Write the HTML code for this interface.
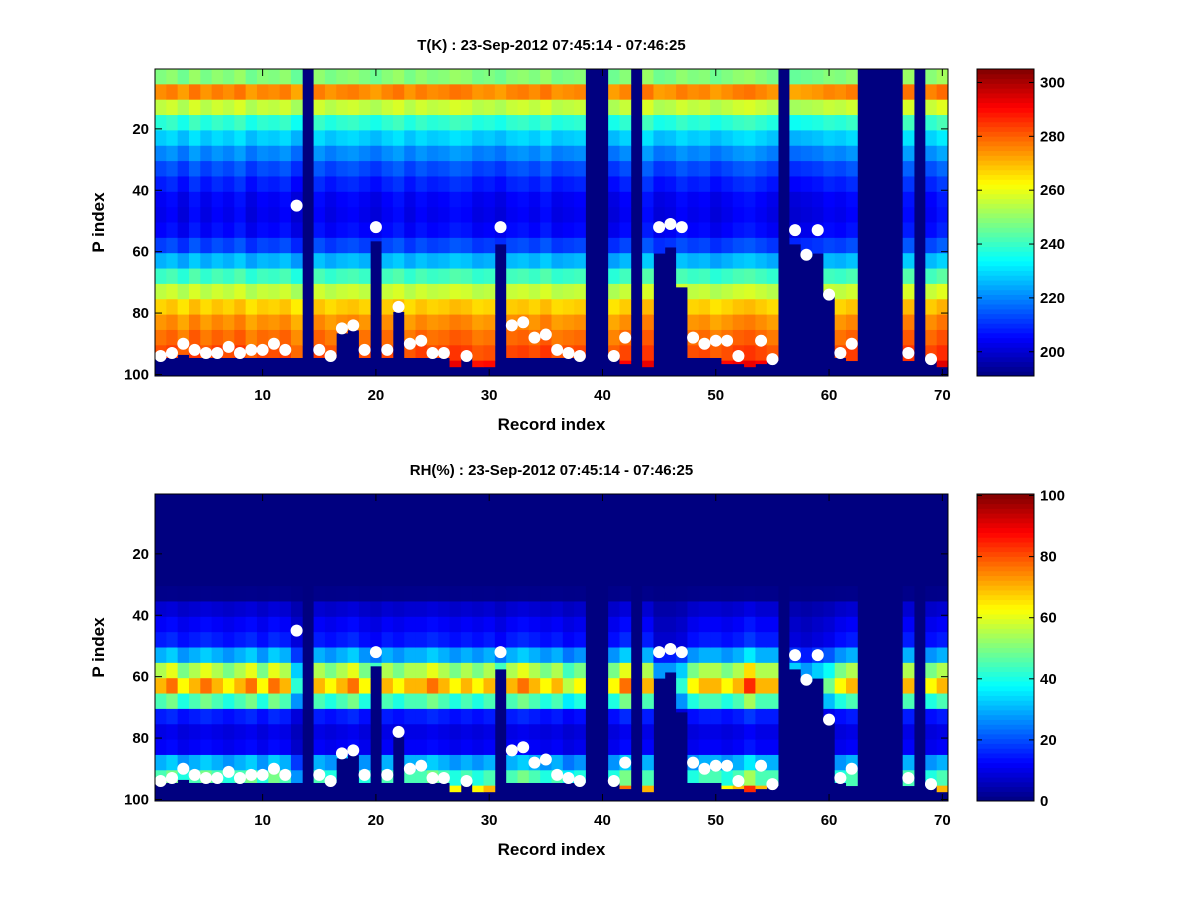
<!DOCTYPE html>
<html><head><meta charset="utf-8">
<style>
body{margin:0;background:#fff;}
svg text{font-family:"Liberation Sans",sans-serif;font-weight:bold;fill:#000;}
</style></head>
<body>
<svg id="fig" width="1200" height="900" xmlns="http://www.w3.org/2000/svg">
<rect width="1200" height="900" fill="#fff"/>
</svg>
<script>
// ---- data ----
const records = Array.from({length:70},(_,i)=>i+1);
const missing = [14,39,40,43,56,63,64,65,66,68];
const surfaceIdx = [94,93,90,92,93,93,91,93,92,92,90,92,45,null,92,94,85,84,92,52,92,78,90,89,93,93,null,94,null,null,52,84,83,88,87,92,93,94,null,null,94,88,null,null,52,51,52,88,90,89,89,94,null,89,95,null,53,61,53,74,93,90,null,null,null,null,93,null,95,null];
const dataBottom = [94,94,93,94,94,94,94,94,94,94,94,94,94,null,94,94,86,85,94,56,94,79,94,94,94,94,97,94,97,97,57,94,94,94,94,94,94,94,null,null,94,96,null,97,60,58,71,94,94,94,96,96,97,96,95,null,57,61,60,74,94,95,null,null,null,null,95,null,95,97];
const tLevels = [248,275,255,238,228,220,213,208,204,203,205,212,225,240,255,267,274,278,282,290];
const rhLevels = [0,0,0,0,0,0,1,8,12,15,30,55,70,45,15,10,12,30,45,70];
const tOffset = [0,2,-2,3,-1,2,0,3,-2,1,0,2,-3,0,2,-1,1,2,0,-2,1,3,-1,2,0,1,3,2,-1,0,-2,1,2,0,3,-1,0,1,0,0,-2,1,0,3,-2,-1,2,0,1,-2,0,2,3,1,-1,0,-3,-2,-1,1,0,2,0,0,0,0,3,0,1,4];
const rhScale = [1.0,1.1,0.9,1.0,1.1,1.0,0.9,1.0,1.1,0.9,1.1,1.0,0.6,0,1.0,0.9,1.0,1.1,0.9,0.8,1.0,0.9,1.0,1.0,1.1,1.0,0.9,1.0,0.9,1.0,0.8,1.0,1.1,1.0,0.9,1.0,0.8,0.9,0,0,0.9,1.1,0,1.0,0.5,0.5,0.6,0.9,1.0,1.0,0.9,1.0,1.2,1.0,1.0,0,0.6,0.5,0.6,0.7,0.9,1.0,0,0,0,0,1.0,0,0.9,1.0];
const xTicks = [10,20,30,40,50,60,70];
const yTicks = [20,40,60,80,100];
const tBarTicks = [200,220,240,260,280,300];
const rhBarTicks = [0,20,40,60,80,100];

const NS="http://www.w3.org/2000/svg";
const svg=document.getElementById('fig');
function mk(tag,attrs,parent){const e=document.createElementNS(NS,tag);for(const k in attrs)e.setAttribute(k,attrs[k]);(parent||svg).appendChild(e);return e;}
function jet(v){
  const c=x=>Math.max(0,Math.min(1,x));
  const r=c(1.5-Math.abs(4*v-3)),g=c(1.5-Math.abs(4*v-2)),b=c(1.5-Math.abs(4*v-1));
  return `rgb(${Math.round(r*255)},${Math.round(g*255)},${Math.round(b*255)})`;
}
const X0=155,X1=948;
const xs=r=>X0+(r-0.5)*(X1-X0)/70;

function panel(top,levels,vmin,vmax,offsets,isRH,title,barTicks,nm){
  const Y0=top,Y1=top+307;
  const ys=p=>Y0+(p-0.5)*(Y1-Y0)/100;
  const g=mk('g',{});
  
  
  mk('rect',{x:X0,y:Y0,width:X1-X0,height:Y1-Y0,fill:jet(0)},g);
  const w=(X1-X0)/70;
  records.forEach((r,i)=>{
    if(missing.includes(r))return;
    const bot=dataBottom[i];
    levels.forEach((lv,j)=>{
      const p0=j*5+1;
      if(p0>bot)return;
      const p1=Math.min(p0+4,bot);
      let v=isRH?lv*offsets[i]:lv+offsets[i];
      const cell=mk('rect',{x:xs(r-0.5).toFixed(2),y:ys(p0-0.5).toFixed(2),width:(w+0.4).toFixed(2),height:((p1-p0+1)*(Y1-Y0)/100+0.4).toFixed(2),fill:jet((v-vmin)/(vmax-vmin))},g);
      
      
    });
  });
  records.forEach((r,i)=>{
    const s=surfaceIdx[i]; if(s==null)return;
    const d=mk('circle',{cx:xs(r).toFixed(2),cy:ys(s).toFixed(2),r:6,fill:'#fff'});
    
    
  });
  const fr=mk('rect',{x:X0,y:Y0,width:X1-X0,height:Y1-Y0,fill:'none',stroke:'#000','stroke-width':1});
  
  
  xTicks.forEach(t=>{
    const x=xs(t);
    mk('line',{x1:x,x2:x,y1:Y1,y2:Y1-7,stroke:'#000'});
    mk('line',{x1:x,x2:x,y1:Y0,y2:Y0+7,stroke:'#000'});
    const tx=mk('text',{x:x,y:Y1+24,'text-anchor':'middle','font-size':15});tx.textContent=t;
    
    
  });
  yTicks.forEach(t=>{
    const y=ys(t);
    mk('line',{x1:X0,x2:X0+7,y1:y,y2:y,stroke:'#000'});
    mk('line',{x1:X1,x2:X1-7,y1:y,y2:y,stroke:'#000'});
    const tx=mk('text',{x:X0-6,y:y+5,'text-anchor':'end','font-size':15});tx.textContent=t;
    
    
  });
  const tt=mk('text',{x:(X0+X1)/2,y:Y0-19,'text-anchor':'middle','font-size':15});tt.textContent=title;
  
  
  const xl=mk('text',{x:(X0+X1)/2,y:Y1+54,'text-anchor':'middle','font-size':17});xl.textContent='Record index';
  
  
  const yl=mk('text',{x:0,y:0,'text-anchor':'middle','font-size':17,transform:`translate(104,${(Y0+Y1)/2}) rotate(-90)`});yl.textContent='P index';
  
  
  const CB0=977,CB1=1034;
  const cb=mk('g',{});
  
  
  const n=64,h=(Y1-Y0)/n;
  for(let k=0;k<n;k++){
    mk('rect',{x:CB0,y:(Y1-(k+1)*h).toFixed(2),width:CB1-CB0,height:(h+0.5).toFixed(2),fill:jet((k+0.5)/n)},cb);
  }
  mk('rect',{x:CB0,y:Y0,width:CB1-CB0,height:Y1-Y0,fill:'none',stroke:'#000'},cb);
  barTicks.forEach(t=>{
    const y=Y1-(t-vmin)/(vmax-vmin)*(Y1-Y0);
    mk('line',{x1:CB0,x2:CB0+5,y1:y,y2:y,stroke:'#000'},cb);
    mk('line',{x1:CB1,x2:CB1-5,y1:y,y2:y,stroke:'#000'},cb);
    const tx=mk('text',{x:CB1+6,y:y+5,'font-size':15},cb);tx.textContent=t;
    
    
  });
}
panel(69,tLevels,191,305,tOffset,false,'T(K) : 23-Sep-2012 07:45:14 - 07:46:25',tBarTicks,'temperature');
panel(494,rhLevels,0,100.5,rhScale,true,'RH(%) : 23-Sep-2012 07:45:14 - 07:46:25',rhBarTicks,'humidity');
</script>
</body></html>
